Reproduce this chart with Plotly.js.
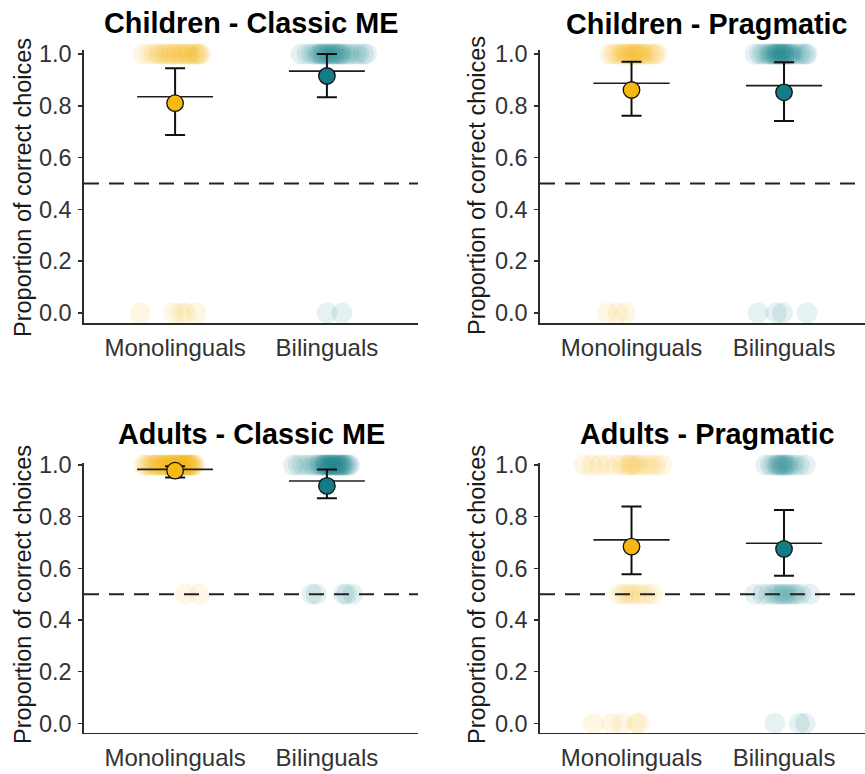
<!DOCTYPE html>
<html>
<head>
<meta charset="utf-8">
<script src="https://cdn.plot.ly/plotly-3.0.1.min.js"></script>
<style>html,body{margin:0;padding:0;background:#fff;}#chart{width:865px;height:774px;}</style>
</head>
<body>
<div id="chart"></div>
<script>
// ---------- DATA ----------
const groupLabels = ['Monolinguals', 'Bilinguals'];
const panelTitles = ['Children - Classic ME', 'Children - Pragmatic', 'Adults - Classic ME', 'Adults - Pragmatic'];
const yTickVals = [0, 0.2, 0.4, 0.6, 0.8, 1.0];
const chanceLevel = 0.5;

// model estimates with 95% CI (panels in order of panelTitles)
const estMono    = [0.810, 0.861, 0.978, 0.684];
const ciLowMono  = [0.687, 0.762, 0.952, 0.577];
const ciHighMono = [0.945, 0.970, 0.995, 0.839];
const estBi      = [0.915, 0.852, 0.919, 0.675];
const ciLowBi    = [0.833, 0.741, 0.871, 0.571];
const ciHighBi   = [1.000, 0.968, 0.983, 0.826];
// observed means (horizontal lines)
const obsMeanMono = [0.835, 0.887, 0.983, 0.710];
const obsMeanBi   = [0.934, 0.878, 0.938, 0.697];

// per-participant proportions and horizontal jitter offsets
// Children - Classic ME
const ccMonoScore  = [1,1,1,1,1,1,1,1,1,1,1,1,1,1,1,1,1,1,1,1,1,1,1,1,1, 0,0,0,0,0];
const ccMonoJitter = [-0.21,-0.17,-0.14,-0.11,-0.10,-0.08,-0.06,-0.05,-0.03,-0.02,0.00,0.01,0.03,0.04,0.05,0.07,0.08,0.09,0.10,0.12,0.13,0.14,0.15,0.16,0.17, -0.23,-0.01,0.04,0.07,0.14];
const ccBiScore    = [1,1,1,1,1,1,1,1,1,1,1,1,1,1,1,1,1,1,1,1,1,1,1,1,1,1,1,1, 0,0];
const ccBiJitter   = [-0.17,-0.13,-0.10,-0.08,-0.06,-0.05,-0.04,-0.03,-0.02,-0.01,0.00,0.01,0.02,0.03,0.04,0.05,0.06,0.07,0.08,0.09,0.10,0.12,0.14,0.16,0.19,0.21,0.24,0.26, 0.00,0.10];
// Children - Pragmatic
const cpMonoScore  = [1,1,1,1,1,1,1,1,1,1,1,1,1,1,1,1,1,1,1,1,1,1,1,1, 0,0,0];
const cpMonoJitter = [-0.14,-0.12,-0.10,-0.08,-0.06,-0.05,-0.04,-0.03,-0.02,-0.01,0.00,0.01,0.02,0.03,0.04,0.05,0.06,0.07,0.08,0.10,0.12,0.14,0.15,0.17, -0.16,-0.09,-0.04];
const cpBiScore    = [1,1,1,1,1,1,1,1,1,1,1,1,1,1,1,1,1,1,1,1,1,1,1,1,1,1,1,1,1, 0,0,0,0];
const cpBiJitter   = [-0.19,-0.16,-0.14,-0.12,-0.10,-0.09,-0.08,-0.07,-0.06,-0.05,-0.05,-0.04,-0.03,-0.02,-0.02,-0.01,0.00,0.00,0.01,0.02,0.03,0.04,0.05,0.06,0.08,0.10,0.12,0.14,0.15, -0.17,-0.05,-0.01,0.15];
// Adults - Classic ME
const acMonoScore  = [1,1,1,1,1,1,1,1,1,1,1,1,1,1,1,1,1,1,1,1,1,1,1,1,1,1,1,1,1,1,1,1,1,1,1,1,1,1,1,1,1,1,1,1,1,1,1,1, 0.5,0.5];
const acMonoJitter = [-0.21,-0.19,-0.18,-0.16,-0.15,-0.14,-0.13,-0.12,-0.11,-0.10,-0.09,-0.09,-0.08,-0.07,-0.06,-0.06,-0.05,-0.04,-0.04,-0.03,-0.02,-0.02,-0.01,0.00,0.00,0.01,0.01,0.02,0.03,0.03,0.04,0.04,0.05,0.05,0.06,0.06,0.07,0.07,0.08,0.08,0.09,0.09,0.10,0.10,0.11,0.12,0.12,0.13, 0.07,0.16];
const acBiScore    = [1,1,1,1,1,1,1,1,1,1,1,1,1,1,1,1,1,1,1,1,1,1,1,1,1,1,1,1,1,1,1,1,1,1,1, 0.5,0.5,0.5,0.5,0.5];
const acBiJitter   = [-0.22,-0.19,-0.16,-0.13,-0.10,-0.08,-0.06,-0.05,-0.04,-0.03,-0.02,-0.01,-0.01,0.00,0.00,0.01,0.02,0.02,0.03,0.04,0.04,0.05,0.06,0.06,0.07,0.08,0.08,0.09,0.10,0.10,0.11,0.12,0.13,0.14,0.15, -0.10,-0.07,0.11,0.13,0.17];
// Adults - Pragmatic
const apMonoScore  = [1,1,1,1,1,1,1,1,1,1,1,1,1,1,1,1, 0.5,0.5,0.5,0.5,0.5,0.5,0.5,0.5, 0,0,0,0,0];
const apMonoJitter = [-0.31,-0.26,-0.21,-0.16,-0.10,-0.06,-0.03,-0.01,0.00,0.02,0.04,0.07,0.10,0.13,0.16,0.20, -0.08,-0.05,-0.02,0.00,0.03,0.06,0.10,0.14, -0.25,-0.13,-0.06,0.03,0.05];
const apBiScore    = [1,1,1,1,1,1,1,1,1,1,1,1,1,1,1,1, 0.5,0.5,0.5,0.5,0.5,0.5,0.5,0.5,0.5,0.5,0.5,0.5,0.5,0.5, 0,0,0];
const apBiJitter   = [-0.12,-0.09,-0.07,-0.05,-0.04,-0.03,-0.02,-0.01,0.00,0.01,0.02,0.03,0.05,0.07,0.10,0.14, -0.19,-0.14,-0.10,-0.07,-0.05,-0.03,-0.01,0.00,0.02,0.04,0.06,0.08,0.11,0.17, -0.06,0.10,0.14];

// ---------- STYLE ----------
const monoColor = '#F7B80F';
const biColor = '#137C87';
const FONT = 'Liberation Sans, Arial, Helvetica, sans-serif';
const W = 865, H = 774;

const monoScores = [ccMonoScore, cpMonoScore, acMonoScore, apMonoScore];
const monoJitters = [ccMonoJitter, cpMonoJitter, acMonoJitter, apMonoJitter];
const biScores = [ccBiScore, cpBiScore, acBiScore, apBiScore];
const biJitters = [ccBiJitter, cpBiJitter, acBiJitter, apBiJitter];

// panel geometry in pixels
const panelPx = [
  {x0: 84, x1: 418, top: 50, bottom: 323, xr: [0.4, 2.6], yr: [-0.0386, 1.0154]},
  {x0: 540, x1: 865, top: 50, bottom: 323, xr: [0.4, 2.531], yr: [-0.0386, 1.0154]},
  {x0: 84, x1: 418, top: 463, bottom: 732.7, xr: [0.4, 2.6], yr: [-0.0364, 1.0077]},
  {x0: 540, x1: 865, top: 463, bottom: 732.7, xr: [0.4, 2.531], yr: [-0.0364, 1.0077]}
];
const titlePx = [{x: 250.5, y: 23}, {x: 706.5, y: 24}, {x: 251, y: 434}, {x: 706.5, y: 434}];
const yTitlePx = [{x: 23, y: 188}, {x: 477, y: 186}, {x: 23, y: 595}, {x: 477, y: 595}];

const traces = [];
const layout = {
  width: W, height: H,
  margin: {l: 0, r: 0, t: 0, b: 0},
  paper_bgcolor: '#fff', plot_bgcolor: '#fff',
  showlegend: false,
  font: {family: FONT, color: '#000'},
  shapes: [], annotations: []
};

const halfLine = 0.25;

for (let p = 0; p < 4; p++) {
  const sfx = p === 0 ? '' : String(p + 1);
  const xa = 'x' + sfx, ya = 'y' + sfx;
  const g = panelPx[p];

  // jittered participants
  [[monoScores[p], monoJitters[p], 1, monoColor], [biScores[p], biJitters[p], 2, biColor]].forEach(([sc, jt, gi, col]) => {
    traces.push({
      type: 'scatter', mode: 'markers', xaxis: xa, yaxis: ya,
      x: jt.map(d => gi + d), y: sc,
      marker: {size: 21, color: col, opacity: 0.11, line: {width: 0}},
      cliponaxis: false, hoverinfo: 'skip'
    });
  });

  // observed mean lines
  [[obsMeanMono[p], 1], [obsMeanBi[p], 2]].forEach(([m, gi]) => {
    traces.push({
      type: 'scatter', mode: 'lines', xaxis: xa, yaxis: ya,
      x: [gi - halfLine, gi + halfLine], y: [m, m],
      line: {color: '#1e1e1e', width: 1.6}, cliponaxis: false, hoverinfo: 'skip'
    });
  });

  // model estimates with CI
  [[estMono[p], ciLowMono[p], ciHighMono[p], 1, monoColor], [estBi[p], ciLowBi[p], ciHighBi[p], 2, biColor]].forEach(([e, lo, hi, gi, col]) => {
    traces.push({
      type: 'scatter', mode: 'markers', xaxis: xa, yaxis: ya,
      x: [gi], y: [e],
      error_y: {type: 'data', symmetric: false, array: [hi - e], arrayminus: [e - lo], color: '#111', thickness: 2, width: 10},
      marker: {size: 16.5, color: col, line: {color: '#111', width: 1.3}},
      cliponaxis: false
    });
  });

  layout['xaxis' + sfx] = {
    domain: [g.x0 / W, g.x1 / W], range: g.xr, anchor: ya,
    tickmode: 'array', tickvals: [1, 2], ticktext: groupLabels,
    ticks: '', showgrid: false, zeroline: false,
    showline: true, linecolor: '#2b2b2b', linewidth: 1.6,
    tickfont: {family: FONT, size: 24, color: '#333'}, ticklabelstandoff: 3
  };
  layout['yaxis' + sfx] = {
    domain: [1 - g.bottom / H, 1 - g.top / H], range: g.yr, anchor: xa,
    tickmode: 'array', tickvals: yTickVals, tickformat: '.1f',
    ticks: 'outside', ticklen: 4, tickwidth: 1.5, tickcolor: '#2b2b2b',
    showgrid: false, zeroline: false,
    showline: true, linecolor: '#2b2b2b', linewidth: 1.6,
    tickfont: {family: FONT, size: 23.5, color: '#333'}, ticklabelstandoff: 2
  };

  layout.shapes.push({
    type: 'line', xref: xa + ' domain', yref: ya, x0: 0, x1: 1, y0: chanceLevel, y1: chanceLevel,
    line: {color: '#222', width: 2, dash: '15px,10px'}, layer: 'above'
  });

  layout.annotations.push({
    xref: 'paper', yref: 'paper', x: titlePx[p].x / W, y: 1 - titlePx[p].y / H,
    xanchor: 'center', yanchor: 'middle', showarrow: false,
    text: '<b>' + panelTitles[p] + '</b>',
    font: {family: FONT, size: 28.8, color: '#000'}
  });
  layout.annotations.push({
    xref: 'paper', yref: 'paper', x: yTitlePx[p].x / W, y: 1 - yTitlePx[p].y / H,
    xanchor: 'center', yanchor: 'middle', showarrow: false, textangle: -90,
    text: 'Proportion of correct choices',
    font: {family: FONT, size: 23.5, color: '#1a1a1a'}
  });
}

Plotly.newPlot('chart', traces, layout, {displayModeBar: false, staticPlot: true});
</script>
</body>
</html>
